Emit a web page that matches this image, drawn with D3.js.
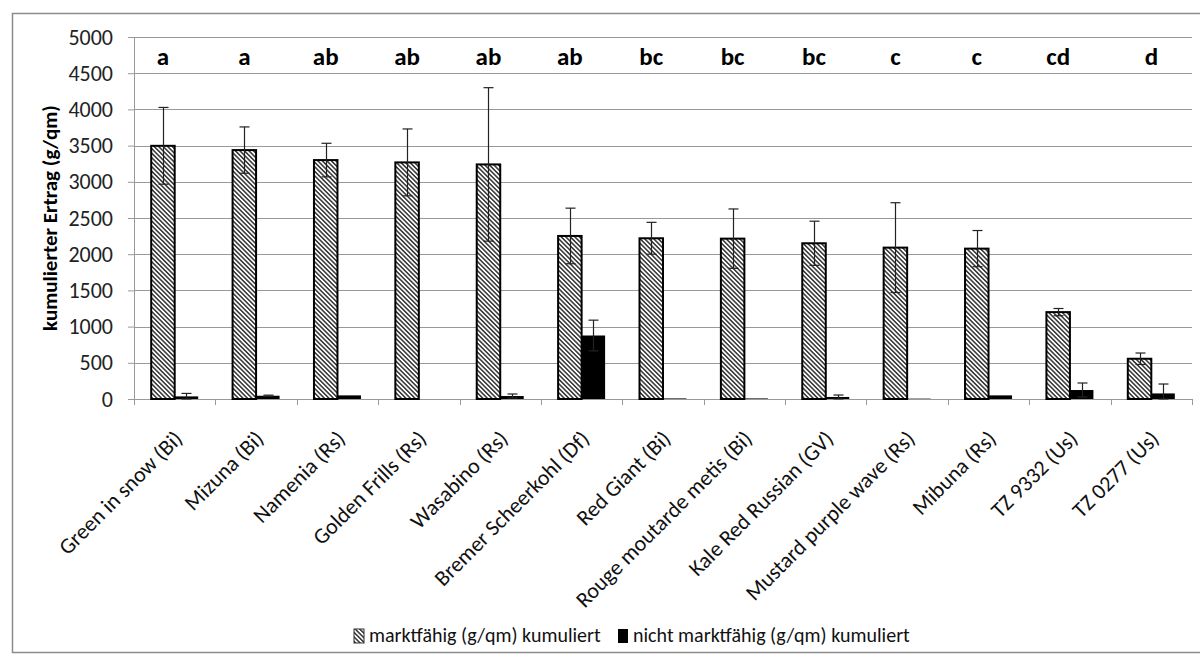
<!DOCTYPE html>
<html>
<head>
<meta charset="utf-8">
<script src="https://cdn.jsdelivr.net/npm/d3@7"></script>
<style>
  body { margin: 0; background: #fff; }
  svg { font-family: Carlito, Calibri, Lato, "Open Sans", sans-serif; }
</style>
</head>
<body>
<script>
var categories = ["Green in snow (Bi)", "Mizuna (Bi)", "Namenia (Rs)", "Golden Frills (Rs)", "Wasabino (Rs)",
  "Bremer Scheerkohl (Df)", "Red Giant (Bi)", "Rouge moutarde metis (Bi)", "Kale Red Russian (GV)",
  "Mustard purple wave (Rs)", "Mibuna (Rs)", "TZ 9332 (Us)", "TZ 0277 (Us)"];
var marketable = [3497, 3438, 3300, 3268, 3240, 2252, 2220, 2215, 2151, 2091, 2077, 1200, 556];
var marketableErr = [530, 320, 232, 462, 1060, 384, 220, 410, 305, 620, 250, 50, 79];
var notMarketable = [36, 45, 50, 0, 41, 877, 8, 8, 28, 5, 50, 124, 77];
var notMarketableErr = [41, 8, 0, 0, 28, 212, 0, 0, 27, 0, 0, 97, 130];
var letters = ["a", "a", "ab", "ab", "ab", "ab", "bc", "bc", "bc", "c", "c", "cd", "d"];
var yTicks = [0, 500, 1000, 1500, 2000, 2500, 3000, 3500, 4000, 4500, 5000];
var seriesNames = ["marktfähig (g/qm) kumuliert", "nicht marktfähig (g/qm) kumuliert"];

var W = 1200, H = 655;
var margin = {top: 37, right: 8, bottom: 256, left: 134};
var width = W - margin.left - margin.right,
    height = H - margin.top - margin.bottom;

var svg = d3.select("body").append("svg")
  .attr("width", W)
  .attr("height", H);

// hatch pattern for marketable bars
var defs = svg.append("defs");
var pat = defs.append("pattern")
  .attr("id", "hatch")
  .attr("patternUnits", "userSpaceOnUse")
  .attr("width", 3.2)
  .attr("height", 3.2)
  .attr("patternTransform", "rotate(-45)");
pat.append("rect").attr("width", 3.2).attr("height", 3.2).attr("fill", "#fff");
pat.append("line")
  .attr("x1", 0.8).attr("y1", 0).attr("x2", 0.8).attr("y2", 3.2)
  .attr("stroke", "#111").attr("stroke-width", 1.3);

// outer frame
svg.append("rect")
  .attr("x", 12.5).attr("y", 13.5)
  .attr("width", 1200).attr("height", 639)
  .attr("fill", "none")
  .attr("stroke", "#8c8c8c")
  .attr("stroke-width", 1.5);

var g = svg.append("g")
  .attr("transform", "translate(" + margin.left + "," + margin.top + ")");

var x = d3.scaleBand()
  .domain(categories)
  .range([0, width])
  .paddingInner(0)
  .paddingOuter(0);

var y = d3.scaleLinear()
  .domain([0, 5000])
  .range([height, 0]);

var barW = 23.5;
var groupOff = (x.bandwidth() - 2 * barW) / 2;

// gridlines
g.append("g")
  .selectAll("line")
  .data(yTicks.slice(1))
  .enter().append("line")
  .attr("x1", 0).attr("x2", width)
  .attr("y1", function(d) { return Math.round(y(d)) + 0.5; })
  .attr("y2", function(d) { return Math.round(y(d)) + 0.5; })
  .attr("stroke", "#999")
  .attr("stroke-width", 1);

// y axis
var yAxis = g.append("g")
  .call(d3.axisLeft(y).tickValues(yTicks).tickFormat(d3.format("d")).tickSize(6).tickPadding(15));
yAxis.attr("font-family", null).attr("font-size", null);
yAxis.select(".domain").attr("stroke", "#999");
yAxis.selectAll(".tick line").attr("stroke", "#999");
yAxis.selectAll("text")
  .attr("font-size", "22px")
  .attr("fill", "#222");

// x axis
var xAxis = g.append("g")
  .attr("transform", "translate(0," + height + ")")
  .call(d3.axisBottom(x).tickSize(0).tickFormat(""));
xAxis.select(".domain").attr("stroke", "#999").attr("d", "M0.5,0.5H" + width);
xAxis.selectAll(".tick").remove();

// tick marks between categories
g.append("g")
  .selectAll("line")
  .data(d3.range(categories.length + 1))
  .enter().append("line")
  .attr("x1", function(i) { return Math.round(i * x.bandwidth()) + 0.5; })
  .attr("x2", function(i) { return Math.round(i * x.bandwidth()) + 0.5; })
  .attr("y1", height)
  .attr("y2", height + 6)
  .attr("stroke", "#999");

// category labels
g.append("g")
  .selectAll("text")
  .data(categories)
  .enter().append("text")
  .attr("transform", function(d) {
    return "translate(" + (x(d) + x.bandwidth() / 2 + 9) + "," + (height + 41) + ") rotate(-45)";
  })
  .attr("text-anchor", "end")
  .attr("font-size", "22px")
  .attr("fill", "#111")
  .text(function(d) { return d; });

// marketable bars
g.selectAll(".bar1")
  .data(categories)
  .enter().append("rect")
  .attr("class", "bar1")
  .attr("x", function(d) { return x(d) + groupOff; })
  .attr("width", barW)
  .attr("y", function(d, i) { return y(marketable[i]); })
  .attr("height", function(d, i) { return height - y(marketable[i]); })
  .attr("fill", "url(#hatch)")
  .attr("stroke", "#000")
  .attr("stroke-width", 2);

// not marketable bars
g.selectAll(".bar2")
  .data(categories)
  .enter().append("rect")
  .attr("class", "bar2")
  .attr("x", function(d) { return x(d) + groupOff + barW; })
  .attr("width", barW)
  .attr("y", function(d, i) { return y(notMarketable[i]); })
  .attr("height", function(d, i) { return height - y(notMarketable[i]); })
  .attr("fill", "#000");

// error bars
function errorBars(vals, errs, off, cls) {
  var eg = g.append("g").attr("class", cls);
  categories.forEach(function(c, i) {
    if (errs[i] <= 0) return;
    var cx = Math.round(x(c) + off) + 0.5;
    var top = y(vals[i] + errs[i]), bot = y(Math.max(0, vals[i] - errs[i]));
    eg.append("line").attr("x1", cx).attr("x2", cx).attr("y1", top).attr("y2", bot)
      .attr("stroke", "#222").attr("stroke-width", 1.2);
    eg.append("line").attr("x1", cx - 5).attr("x2", cx + 5).attr("y1", top).attr("y2", top)
      .attr("stroke", "#222").attr("stroke-width", 1.2);
    eg.append("line").attr("x1", cx - 5).attr("x2", cx + 5).attr("y1", bot).attr("y2", bot)
      .attr("stroke", "#222").attr("stroke-width", 1.2);
  });
}
errorBars(marketable, marketableErr, groupOff + barW / 2, "err1");
errorBars(notMarketable, notMarketableErr, groupOff + barW * 1.5, "err2");

// significance letters
g.append("g")
  .selectAll("text")
  .data(letters)
  .enter().append("text")
  .attr("x", function(d, i) { return x(categories[i]) + groupOff + barW / 2 + (i == letters.length - 1 ? 12 : 0); })
  .attr("y", 28)
  .attr("text-anchor", "middle")
  .attr("font-size", "25px")
  .attr("font-weight", "bold")
  .attr("fill", "#000")
  .text(function(d) { return d; });

// y axis title
svg.append("text")
  .attr("transform", "translate(57," + (margin.top + height / 2) + ") rotate(-90)")
  .attr("text-anchor", "middle")
  .attr("font-size", "21px")
  .attr("font-weight", "bold")
  .attr("fill", "#000")
  .text("kumulierter Ertrag (g/qm)");

// legend
var leg = svg.append("g").attr("transform", "translate(0,637)");
var legX = [354, 618];
seriesNames.forEach(function(s, i) {
  leg.append("rect")
    .attr("x", legX[i]).attr("y", -8)
    .attr("width", 10).attr("height", 14)
    .attr("fill", i == 0 ? "url(#hatch)" : "#000")
    .attr("stroke", i == 0 ? "#333" : "none")
    .attr("stroke-width", 1);
  leg.append("text")
    .attr("x", legX[i] + 15).attr("y", 5)
    .attr("font-size", "20px")
    .attr("fill", "#111")
    .text(s);
});
</script>
</body>
</html>
